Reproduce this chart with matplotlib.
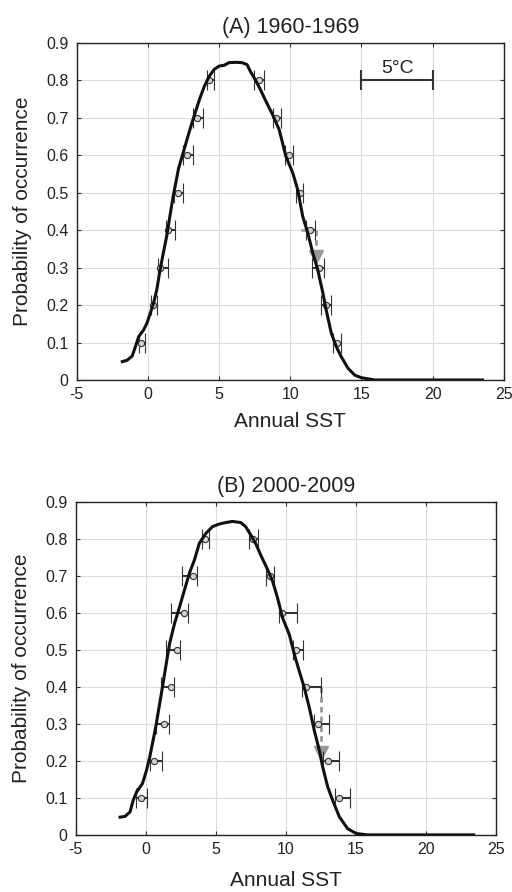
import matplotlib.pyplot as plt

plt.rcParams['font.family'] = ['Liberation Sans', 'DejaVu Sans']
plt.rcParams['axes.unicode_minus'] = False

# curve A (1960-1969)
curve_a_x = [-1.80, -1.45, -1.11, -0.88, -0.65, -0.30, -0.07, 0.16, 0.39, 0.62, 0.85, 1.08,
             1.31, 1.54, 1.77, 2.00, 2.15, 2.47, 2.81, 3.16, 3.39, 3.62, 3.96, 4.31, 4.65,
             5.00, 5.35, 5.69, 6.15, 6.61, 6.96, 7.19, 7.53, 7.85, 8.25, 8.72, 9.22, 9.69,
             10.17, 10.52, 10.87, 11.23, 11.58, 11.93, 12.29, 12.52, 12.88, 13.23, 13.58,
             14.06, 14.53, 15.00, 15.94, 23.5]
curve_a_y = [0.049, 0.053, 0.064, 0.089, 0.116, 0.134, 0.152, 0.178, 0.205, 0.241, 0.294, 0.339,
             0.383, 0.437, 0.490, 0.535, 0.565, 0.606, 0.651, 0.695, 0.722, 0.749, 0.784, 0.811,
             0.829, 0.838, 0.840, 0.847, 0.848, 0.847, 0.842, 0.824, 0.802, 0.779, 0.747,
             0.711, 0.668, 0.597, 0.553, 0.508, 0.437, 0.392, 0.339, 0.294, 0.232, 0.187,
             0.125, 0.089, 0.062, 0.031, 0.013, 0.006, 0.0, 0.0]

# curve B (2000-2009)
curve_b_x = [-1.84, -1.49, -1.13, -0.90, -0.66, -0.24, 0.05, 0.28, 0.52, 0.75, 0.99, 1.23,
             1.46, 1.70, 2.05, 2.41, 2.76, 3.11, 3.47, 3.82, 4.29, 4.76, 5.24, 5.71, 6.18,
             6.77, 7.12, 7.48, 7.83, 8.20, 8.60, 9.05, 9.40, 9.76, 10.24, 10.60, 10.95, 11.31,
             11.67, 12.02, 12.38, 12.62, 12.98, 13.33, 13.81, 14.40, 15.0, 15.8, 23.4]
curve_b_y = [0.048, 0.050, 0.062, 0.094, 0.116, 0.139, 0.175, 0.211, 0.256, 0.301, 0.356, 0.410,
             0.464, 0.518, 0.572, 0.617, 0.663, 0.708, 0.744, 0.789, 0.816, 0.834, 0.841, 0.845,
             0.848, 0.845, 0.834, 0.812, 0.789, 0.757, 0.725, 0.686, 0.641, 0.587, 0.542, 0.488,
             0.443, 0.398, 0.344, 0.283, 0.229, 0.184, 0.130, 0.094, 0.049, 0.017, 0.004, 0.0, 0.0]

levels = [0.1, 0.2, 0.3, 0.4, 0.5, 0.6, 0.7, 0.8]

# error bars, panel A: left side then right side
a_left_mid = [-0.49, 0.33, 0.85, 1.43, 2.09, 2.72, 3.43, 4.32]
a_left_lo = [-0.66, 0.19, 0.68, 1.24, 1.85, 2.49, 3.19, 4.13]
a_left_hi = [-0.23, 0.66, 1.43, 1.90, 2.44, 3.19, 3.90, 4.67]
a_right_mid = [13.29, 12.54, 11.99, 11.36, 10.66, 9.88, 9.01, 7.77]
a_right_lo = [12.98, 12.16, 11.53, 11.10, 10.42, 9.65, 8.75, 7.42]
a_right_hi = [13.59, 12.89, 12.35, 11.76, 10.89, 10.16, 9.34, 8.17]

# error bars, panel B
b_left_mid = [-0.31, 0.60, 1.31, 1.83, 2.19, 2.74, 3.38, 4.21]
b_left_lo = [-0.67, 0.33, 0.76, 1.05, 1.43, 1.83, 2.55, 3.98]
b_left_hi = [0.10, 1.12, 1.67, 2.02, 2.43, 3.02, 3.67, 4.52]
b_right_mid = [13.81, 13.02, 12.31, 11.43, 10.69, 9.74, 8.86, 7.62]
b_right_lo = [13.50, 12.62, 12.00, 11.12, 10.48, 9.52, 8.57, 7.36]
b_right_hi = [14.57, 13.81, 13.09, 12.50, 11.19, 10.76, 9.17, 7.98]

# grey arrows (x, y start, y end)
arrow_a = (11.83, 0.40, 0.318)
arrow_b = (12.52, 0.40, 0.211)


def draw_bars(ax, mid, lo, hi):
    err = [[m - l for m, l in zip(mid, lo)], [h - m for m, h in zip(mid, hi)]]
    ax.errorbar(mid, levels, xerr=err, fmt='o', ms=4.5, mfc='#d0d0d0', mec='#333333',
                mew=0.8, ecolor='#333333', elinewidth=1.5, capsize=7, capthick=1.5, zorder=4)


def setup(ax, title, xpad):
    ax.set_xlim(-5, 25)
    ax.set_ylim(0, 0.9)
    ax.set_xticks(range(-5, 26, 5))
    ax.set_yticks([0, 0.1, 0.2, 0.3, 0.4, 0.5, 0.6, 0.7, 0.8, 0.9])
    ax.set_yticklabels(['0', '0.1', '0.2', '0.3', '0.4', '0.5', '0.6', '0.7', '0.8', '0.9'])
    ax.grid(True, color='#dcdcdc', lw=0.8)
    ax.set_axisbelow(True)
    ax.tick_params(direction='in', top=True, right=True, labelsize=11.5, length=3,
                   color='#333333', labelcolor='#222222')
    ax.tick_params(axis='x', pad=5)
    ax.tick_params(axis='y', pad=6)
    for s in ax.spines.values():
        s.set_color('#222222')
        s.set_linewidth(1.0)
    ax.set_title(title, fontsize=15.5, color='#222222', pad=7)
    ax.set_xlabel('Annual SST', fontsize=15, color='#222222', labelpad=xpad)
    ax.set_ylabel('Probability of occurrence', fontsize=15, color='#222222', labelpad=10)


def draw_arrow(ax, arr):
    x, y0, y1 = arr
    ax.plot([x, x], [y0, y1 + 0.02], ls=(0, (2, 1.5)), color='#999999', lw=2.0, zorder=3)
    ax.plot([x], [y1 + 0.01], marker='v', ms=10, color='#999999', mec='#999999', zorder=3)


fig = plt.figure(figsize=(5.12, 8.92), dpi=100)
ax1 = fig.add_axes([0.150, 0.574, 0.834, 0.378])
ax2 = fig.add_axes([0.148, 0.064, 0.821, 0.373])

setup(ax1, '(A) 1960-1969', 7)
setup(ax2, '(B) 2000-2009', 10)

draw_arrow(ax1, arrow_a)
ax1.plot([10.85, 11.25], [0.40, 0.40], color='#999999', lw=1.8, zorder=3)
draw_arrow(ax2, arrow_b)

ax1.plot(curve_a_x, curve_a_y, color='#111111', lw=2.2, zorder=5)
ax2.plot(curve_b_x, curve_b_y, color='#111111', lw=2.2, zorder=5)

draw_bars(ax1, a_left_mid, a_left_lo, a_left_hi)
draw_bars(ax1, a_right_mid, a_right_lo, a_right_hi)
draw_bars(ax2, b_left_mid, b_left_lo, b_left_hi)
draw_bars(ax2, b_right_mid, b_right_lo, b_right_hi)

# 5 degree scale bar
ax1.errorbar([17.5], [0.8], xerr=[2.5], fmt='none', ecolor='#333333', elinewidth=1.5,
             capsize=7, capthick=1.5)
ax1.text(17.5, 0.81, '5°C', ha='center', va='bottom', fontsize=14, color='#222222')

fig.savefig('out.png', dpi=100)
